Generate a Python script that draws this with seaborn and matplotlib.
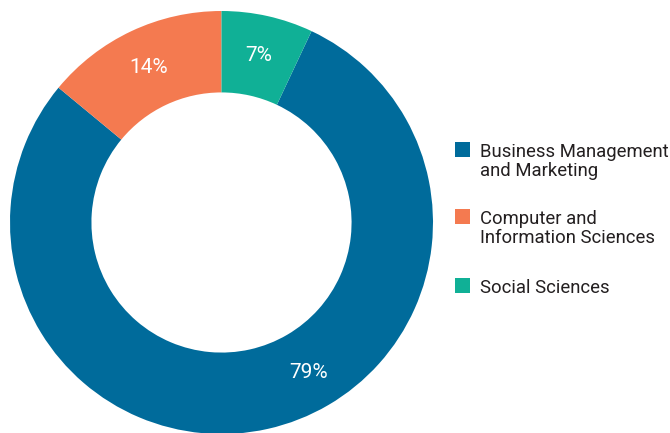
import numpy as np
import seaborn as sns
import matplotlib
matplotlib.use('Agg')
import matplotlib.pyplot as plt
from matplotlib.patches import Rectangle

# data
categories = ['Business Management\nand Marketing', 'Computer and\nInformation Sciences', 'Social Sciences']
shares = [79, 14, 7]
pct_labels = ['79%', '14%', '7%']
colors = ['#006b9b', '#f47a50', '#10b096']

sns.set_theme(style='white')
plt.rcParams['font.family'] = ['Roboto', 'DejaVu Sans']

W, H = 670, 433
fig = plt.figure(figsize=(W / 100, H / 100), dpi=100)
ax = fig.add_axes([10 / W, -1 / H, 423 / W, 423 / H])

# start so that the small wedge begins at 12 o'clock, going clockwise
start = 90 - shares[2] / sum(shares) * 360
wedges, texts, autotexts = ax.pie(
    shares, colors=colors, startangle=start, counterclock=False,
    radius=1.0, wedgeprops=dict(width=0.385, edgecolor='none', linewidth=0),
    autopct='%1.0f%%', pctdistance=0.81,
    textprops=dict(color='white', fontsize=15))
ax.set_xlim(-1, 1)
ax.set_ylim(-1, 1)
ax.set_aspect('equal')

# the big wedge label sits off-centre in the original
ang = np.deg2rad(90 - 150)
autotexts[0].set_position((0.82 * np.cos(ang), 0.82 * np.sin(ang)))
for t, lab in zip(autotexts, pct_labels):
    t.set_text(lab)

# legend drawn by hand so the square sits on the first line
sq_tops = [142, 209, 278]
for top, lab, c in zip(sq_tops, categories, colors):
    fig.patches.append(Rectangle((455 / W, 1 - (top + 15) / H), 15 / W, 15 / H,
                                 transform=fig.transFigure, facecolor=c,
                                 edgecolor='none', figure=fig))
    fig.text(480 / W, 1 - (top + 1) / H, lab, ha='left', va='top',
             fontsize=13.3, color='#231f20', linespacing=1.06)

plt.savefig('out.png', dpi=100)
